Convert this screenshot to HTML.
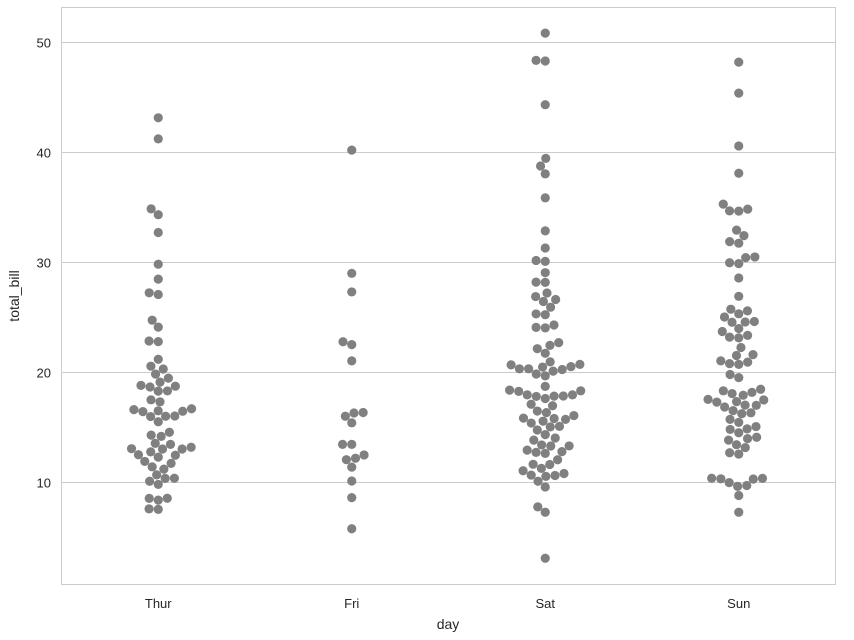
<!DOCTYPE html>
<html><head><meta charset="utf-8"><style>
body{margin:0;background:#fff;}
svg text{font-family:"Liberation Sans",sans-serif;fill:#262626;}
</style></head><body>
<svg id="chart" width="854" height="635" xmlns="http://www.w3.org/2000/svg">
<rect x="0" y="0" width="854" height="635" fill="#fff"/>
<g id="grid"></g>
<rect x="61.5" y="7.5" width="774" height="577" fill="none" stroke="#cccccc" stroke-width="1"/>
<g id="ticks"></g>
<g id="points"></g>
<text x="448" y="629" font-size="14" text-anchor="middle">day</text>
<text transform="translate(19,296) rotate(-90)" font-size="14" text-anchor="middle">total_bill</text>
</svg>
<script>
const categories = ["Thur","Fri","Sat","Sun"];
const yTicks = [10,20,30,40,50];
const thurValues = [27.20,22.76,17.29,19.44,16.66,10.07,32.68,15.98,34.83,13.03,18.28,24.71,21.16,10.65,12.43,24.08,11.69,13.42,14.26,15.95,12.48,29.80,8.52,14.52,11.38,22.82,19.08,20.27,11.17,12.26,18.26,8.51,10.33,14.15,16.00,13.16,17.47,34.30,41.19,27.05,16.43,8.35,18.64,11.87,9.78,7.51,19.81,28.44,15.48,16.58,7.56,10.34,43.11,13.00,13.51,18.71,12.74,13.00,16.40,20.53,16.47,18.78];
const friValues = [28.97,22.49,5.75,16.32,22.75,40.17,27.28,12.03,21.01,12.46,11.35,15.38,12.16,13.42,8.58,15.98,13.42,16.27,10.09];
const satValues = [20.65,17.92,20.29,15.77,39.42,19.82,17.81,13.37,12.69,21.70,19.65,9.55,18.35,15.06,20.69,17.78,24.06,16.31,16.93,18.69,31.27,16.04,38.01,26.41,11.24,48.27,20.29,13.81,11.02,18.29,17.59,20.08,16.45,3.07,20.23,15.01,12.02,17.07,26.86,25.28,14.73,10.51,17.92,44.30,22.42,20.92,15.36,20.49,25.21,18.24,14.31,14.00,7.25,10.59,10.63,50.81,15.81,26.59,38.73,24.27,12.76,30.06,25.89,48.33,13.27,28.17,12.90,28.15,11.59,7.74,30.14,20.45,13.28,22.12,24.01,15.69,11.61,10.77,15.53,10.07,12.60,32.83,35.83,29.03,27.18,22.67,17.82];
const sunValues = [16.99,10.34,21.01,23.68,24.59,25.29,8.77,26.88,15.04,14.78,10.27,35.26,15.42,18.43,14.83,21.58,10.33,16.29,16.97,17.46,13.94,9.68,30.40,18.29,22.23,32.40,28.55,18.04,12.54,10.29,34.81,9.94,25.56,19.49,38.07,23.95,25.71,17.31,29.93,14.07,13.13,17.26,24.55,19.77,29.85,48.17,25.00,13.39,16.49,21.50,12.66,16.21,13.81,17.51,24.52,20.76,31.71,7.25,31.85,16.82,32.90,17.89,14.48,9.60,34.63,34.65,23.33,45.35,23.17,40.55,20.69,20.90,30.46,18.15,23.10,15.69];
const seriesByDay = [thurValues,friValues,satValues,sunValues];

const NS="http://www.w3.org/2000/svg";
const L=61.5,W=774,T=7.5,B=584.5;
function xScale(i){return L+(i+0.5)*W/categories.length;}
function yScale(v){return 592-11*v;}
const grid=document.getElementById('grid'),ticks=document.getElementById('ticks'),pts=document.getElementById('points');
yTicks.forEach(t=>{
  const y=Math.round(yScale(t))+0.5;
  const ln=document.createElementNS(NS,'line');
  ln.setAttribute('x1',L);ln.setAttribute('x2',L+W);ln.setAttribute('y1',y);ln.setAttribute('y2',y);
  ln.setAttribute('stroke','#cccccc');
  
  
  grid.appendChild(ln);
  const tx=document.createElementNS(NS,'text');
  tx.setAttribute('x',51);tx.setAttribute('y',y+5);tx.setAttribute('font-size','13');tx.setAttribute('text-anchor','end');
  tx.textContent=t;
  
  
  ticks.appendChild(tx);
});
categories.forEach((c,i)=>{
  const tx=document.createElementNS(NS,'text');
  tx.setAttribute('x',xScale(i));tx.setAttribute('y',608);tx.setAttribute('font-size','13');tx.setAttribute('text-anchor','middle');
  tx.textContent=c;
  
  
  ticks.appendChild(tx);
});
const D=9.2;
seriesByDay.forEach((vals,i)=>{
  const cx=xScale(i);
  const sorted=vals.slice().sort((a,b)=>a-b);
  const placed=[];
  sorted.forEach(v=>{
    const y=yScale(v);
    const near=placed.filter(p=>Math.abs(p.y-y)<D);
    const cands=[0];
    near.forEach(p=>{const dx=Math.sqrt(D*D-(p.y-y)**2);cands.push(p.x+dx,p.x-dx);});
    cands.sort((a,b)=>Math.abs(a)-Math.abs(b)||a-b);
    let x=0;
    for(const c of cands){if(near.every(p=>(p.x-c)**2+(p.y-y)**2>=D*D-0.01)){x=c;break;}}
    placed.push({x,y});
    const ci=document.createElementNS(NS,'circle');
    ci.setAttribute('cx',cx+x);ci.setAttribute('cy',y);ci.setAttribute('r',4.6);ci.setAttribute('fill','#808080');
    
    
    pts.appendChild(ci);
  });
});
</script>
</body></html>
